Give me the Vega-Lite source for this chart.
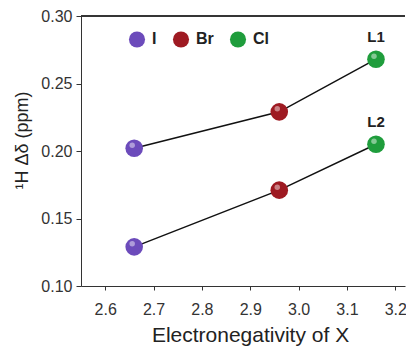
{
  "$schema": "https://vega.github.io/schema/vega-lite/v6.json",
  "autosize": {"type": "none"},
  "width": 324,
  "height": 270,
  "padding": {"left": 81, "top": 16, "right": 1, "bottom": 60},
  "background": "white",
  "config": {
    "view": {"stroke": null},
    "font": "Liberation Sans",
    "axis": {"labelFont": "Liberation Sans", "titleFont": "Liberation Sans", "labelColor": "#333333", "titleColor": "#222222", "domainColor": "#333333", "tickColor": "#333333", "grid": false, "labelFontSize": 16, "titleFontWeight": "normal"}
  },
  "datasets": {
    "pts": [
      {"x": 2.66, "y": 0.202, "element": "I", "series": "L1"},
      {"x": 2.96, "y": 0.229, "element": "Br", "series": "L1"},
      {"x": 3.16, "y": 0.268, "element": "Cl", "series": "L1"},
      {"x": 2.66, "y": 0.129, "element": "I", "series": "L2"},
      {"x": 2.96, "y": 0.171, "element": "Br", "series": "L2"},
      {"x": 3.16, "y": 0.205, "element": "Cl", "series": "L2"}
    ],
    "labels": [
      {"x": 3.16, "y": 0.268, "label": "L1"},
      {"x": 3.16, "y": 0.205, "label": "L2"}
    ]
  },
  "layer": [
    {
      "data": {"name": "pts"},
      "mark": {"type": "rule", "color": "#333333", "strokeWidth": 1},
      "encoding": {"y": {"datum": 0.3, "type": "quantitative"}}
    },
    {
      "data": {"name": "pts"},
      "mark": {"type": "line", "color": "#111111", "strokeWidth": 1.5},
      "encoding": {
        "x": {"field": "x", "type": "quantitative", "scale": {"domain": [2.55, 3.22], "nice": false, "zero": false},
          "axis": {"values": [2.6, 2.7, 2.8, 2.9, 3.0, 3.1, 3.2], "format": ".1f", "title": "Electronegativity of X", "titleFontSize": 21, "titleX": 169, "tickSize": 4, "labelPadding": 11, "titlePadding": 7}},
        "y": {"field": "y", "type": "quantitative", "scale": {"domain": [0.1, 0.3], "nice": false, "zero": false},
          "axis": {"values": [0.1, 0.15, 0.2, 0.25, 0.3], "format": ".2f", "title": "¹H Δδ (ppm)", "titleFontSize": 18, "titleY": 124, "tickSize": 5, "labelPadding": 4, "titlePadding": 9}},
        "detail": {"field": "series"}
      }
    },
    {
      "data": {"name": "pts"},
      "mark": {"type": "circle", "opacity": 1, "size": 310},
      "encoding": {
        "x": {"field": "x", "type": "quantitative"},
        "y": {"field": "y", "type": "quantitative"},
        "color": {"field": "element", "type": "nominal",
          "scale": {"domain": ["I", "Br", "Cl"], "range": ["#6c4bbb", "#9e1a22", "#1f9d3c"]},
          "legend": {"title": null, "orient": "none", "legendX": 47, "legendY": 14, "direction": "horizontal", "symbolSize": 260, "symbolType": "circle", "symbolOpacity": 1, "labelFontSize": 16, "labelFontWeight": "bold", "labelColor": "#222222", "labelOffset": 6, "columnPadding": 15}}
      }
    },
    {
      "data": {"name": "pts"},
      "mark": {"type": "circle", "color": "white", "opacity": 0.45, "size": 30, "xOffset": -2, "yOffset": -3},
      "encoding": {
        "x": {"field": "x", "type": "quantitative"},
        "y": {"field": "y", "type": "quantitative"}
      }
    },
    {
      "data": {"name": "labels"},
      "mark": {"type": "text", "fontSize": 15, "fontWeight": "bold", "color": "#222222", "dy": -22},
      "encoding": {
        "x": {"field": "x", "type": "quantitative"},
        "y": {"field": "y", "type": "quantitative"},
        "text": {"field": "label"}
      }
    }
  ]
}
